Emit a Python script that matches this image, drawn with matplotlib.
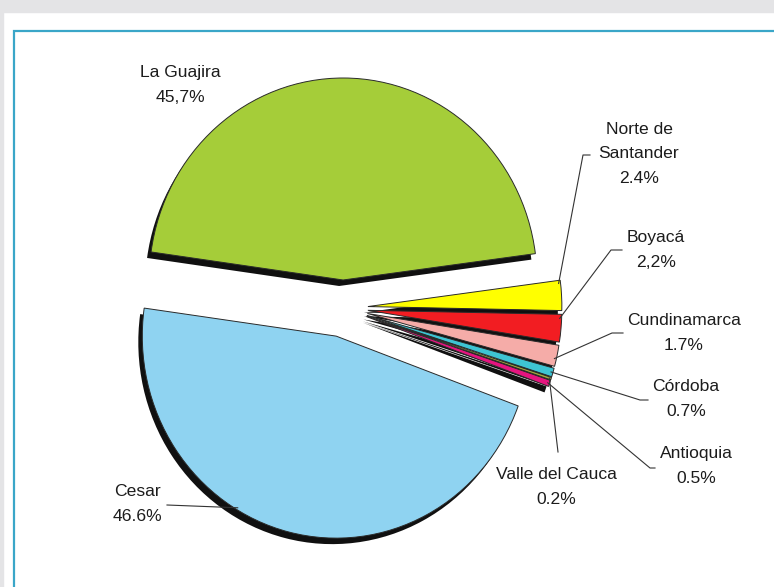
import numpy as np
import matplotlib.pyplot as plt
from matplotlib.patches import Rectangle

plt.rcParams['font.family'] = ['Liberation Sans', 'DejaVu Sans']

# datos: participación por departamento (%)
departamentos = ['La Guajira', 'Cesar', 'Antioquia', 'Valle del Cauca', 'Córdoba',
                 'Cundinamarca', 'Boyacá', 'Norte de\nSantander']
participacion = [45.7, 46.6, 0.5, 0.2, 0.7, 1.7, 2.2, 2.4]
porcentajes = ['45,7%', '46.6%', '0.5%', '0.2%', '0.7%', '1.7%', '2,2%', '2.4%']
colores = ['#a5cd39', '#8fd3f1', '#e5157f', '#a2a83c', '#3ec4d3',
           '#f5aca8', '#f21d22', '#ffff00']

# separación de cada porción
separacion = [28, 29, 26, 26, 26, 26, 26, 26]

W, H = 774, 587
cx, cy = 343, H - 308   # centro de la torta
sx = 0.96               # la torta original es un poco más angosta que alta


def px(x):
    # pixel horizontal -> coordenada de datos
    return cx + (x - cx) / sx


fig = plt.figure(figsize=(W / 100, H / 100), dpi=100)
ax = fig.add_axes([0, 0, 1, 1])

# fondo y marco
ax.add_patch(Rectangle((px(0), H - 12), W / sx, 12, color='#e4e4e6', zorder=0))
ax.add_patch(Rectangle((px(0), 0), 3 / sx, H, color='#e4e4e6', zorder=0))
ax.add_patch(Rectangle((px(14), -10), (W + 20) / sx, H - 31 + 10, fill=False,
                       edgecolor='#3aa6c8', linewidth=1.6, zorder=0))

radio = 202

# sombra
ax.pie(participacion, explode=separacion, colors=['#101010'] * len(participacion),
       startangle=7.5, radius=radio, center=(cx - 4 / sx, cy - 6),
       wedgeprops=dict(linewidth=0))
porciones, _ = ax.pie(participacion, explode=separacion, colors=colores,
                      startangle=7.5, radius=radio, center=(cx, cy),
                      wedgeprops=dict(edgecolor='#2a2a2a', linewidth=0.7))

# posiciones de etiquetas (pixeles de imagen)
pos_texto = [(180, 85), (137, 504), (696, 466), (556, 487), (686, 399),
             (684, 333), (656, 250), (639, 154)]
t_union = [None, 0.40, 0.5, 0.5, 0.5, 0.35, 0.85, 0.9]
codos = [None, [(167, 505)], [(650, 468), (655, 468)], [(558, 452)],
         [(640, 400), (648, 400)], [(612, 333), (623, 333)],
         [(611, 250), (622, 250)], [(583, 155), (590, 155)]]


def punto(w, t, f=0.99):
    ang = np.radians(w.theta1 + t * (w.theta2 - w.theta1))
    return (w.center[0] + f * w.r * np.cos(ang), w.center[1] + f * w.r * np.sin(ang))


for i, w in enumerate(porciones):
    x, y = pos_texto[i]
    ax.text(px(x), H - y, departamentos[i] + '\n' + porcentajes[i], ha='center',
            va='center', fontsize=12.6, color='#1c1c1c', linespacing=1.8, zorder=5)
    if codos[i] is not None:
        p0 = punto(w, t_union[i])
        xs = [p0[0]] + [px(c[0]) for c in codos[i]]
        ys = [p0[1]] + [H - c[1] for c in codos[i]]
        ax.plot(xs, ys, color='#333333', linewidth=0.8, zorder=4)

ax.set_xlim(px(0), px(W))
ax.set_ylim(0, H)
ax.set_aspect('auto')
ax.axis('off')

fig.savefig('out.png', dpi=100)
